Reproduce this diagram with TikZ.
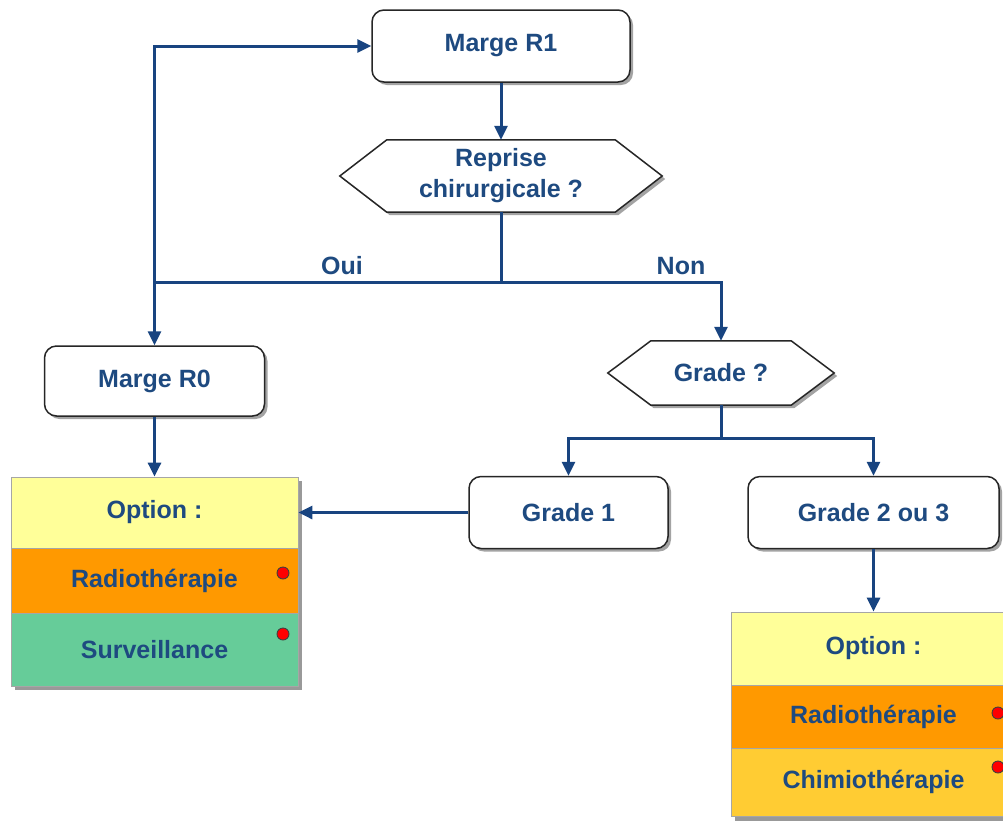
\documentclass[tikz,border=0pt]{standalone}
\usepackage{fontspec}
\setmainfont{Liberation Sans}
\usetikzlibrary{arrows.meta,shadows,calc}
\pgfdeclarelayer{bottom}
\pgfdeclarelayer{bg}
\pgfsetlayers{bottom,bg,main}
\definecolor{txt}{RGB}{30,74,128}
\definecolor{lncol}{RGB}{24,68,128}
\definecolor{optyellow}{RGB}{255,255,153}
\definecolor{optorange}{RGB}{255,153,0}
\definecolor{optgreen}{RGB}{102,204,153}
\definecolor{optgold}{RGB}{255,204,51}
\tikzset{
  box/.style={rectangle, rounded corners=12pt, draw=black!85, line width=1.5pt, fill=white,
    text=txt, align=center,
    drop shadow={shadow xshift=3pt, shadow yshift=-3pt, fill=black!45, opacity=0.8}},
  hexnode/.style={rectangle, inner sep=0pt, text=txt, align=center},
  hexshape/.style={draw=black!85, line width=1.5pt, fill=white,
    drop shadow={shadow xshift=3pt, shadow yshift=-3pt, fill=black!45, opacity=0.8}},
  optsec/.style={rectangle, inner sep=0pt, text=txt, draw=black!35, line width=0.8pt},
  dot/.style={circle, minimum size=12pt, inner sep=0pt, fill=red, draw=black!75, line width=0.9pt},
  arr/.style={draw=lncol, line width=3pt, -{Triangle[length=14pt,width=13pt]}},
  conn/.style={draw=lncol, line width=3pt},
  lbl/.style={text=txt, inner sep=1pt}
}
\begin{document}
\begin{tikzpicture}[x=1pt,y=-1pt, font=\fontsize{25}{31}\selectfont\bfseries]
\useasboundingbox (0,0) rectangle (1003,820);
\begin{pgfonlayer}{bottom}
\fill[white] (0,0) rectangle (1003,820);
\end{pgfonlayer}

% main boxes
\node[box, minimum width=258pt, minimum height=72pt] (m1) at (501,46) {Marge R1};
\node[box, minimum width=220pt, minimum height=70pt] (r0) at (154.5,381) {Marge R0};
\node[box, minimum width=199pt, minimum height=72pt] (g1) at (568.5,512.5) {Grade 1};
\node[box, minimum width=251pt, minimum height=72pt] (g2) at (873.5,512.5) {Grade 2 ou 3};

% hexagon decisions
\node[hexnode, minimum width=228pt, minimum height=72pt] (rep) at (501,176) {Reprise\\chirurgicale ?};
\node[hexnode, minimum width=140pt, minimum height=64pt] (gq) at (721,373) {Grade ?};
\begin{pgfonlayer}{bg}
\path[hexshape] (rep.north west) -- (rep.north east) -- ($(rep.east)+(47,0)$) -- (rep.south east)
  -- (rep.south west) -- ($(rep.west)+(-47,0)$) -- cycle;
\path[hexshape] (gq.north west) -- (gq.north east) -- ($(gq.east)+(43,0)$) -- (gq.south east)
  -- (gq.south west) -- ($(gq.west)+(-43,0)$) -- cycle;
\end{pgfonlayer}

% option box left
\fill[black!40] (15,481) rectangle (302,690);
\node[optsec, fill=optyellow, minimum width=287pt, minimum height=71pt] (opt1) at (154.5,512.5) {Option :};
\node[optsec, fill=optorange, minimum width=287pt, minimum height=65pt] (rad1) at (154.5,580.5) {Radiothérapie};
\node[optsec, fill=optgreen, minimum width=287pt, minimum height=73pt] (surv) at (154.5,649.5) {Surveillance};
\node[dot] (d1) at (283,573) {};
\node[dot] (d2) at (283,634) {};

% option box right
\fill[black!40] (735,616) rectangle (1020,824);
\node[optsec, fill=optyellow, minimum width=285pt, minimum height=73pt] (opt2) at (873.5,648.5) {Option :};
\node[optsec, fill=optorange, minimum width=285pt, minimum height=63pt] (rad2) at (873.5,716.5) {Radiothérapie};
\node[optsec, fill=optgold, minimum width=285pt, minimum height=68pt] (chim) at (873.5,782) {Chimiothérapie};
\node[dot] (d3) at (998,713) {};
\node[dot] (d4) at (998,767) {};

% junctions
\coordinate (j) at (501,282);
\coordinate (jl) at (154.5,282);
\coordinate (k) at (721,438);

% connectors
\draw[arr] (m1.south) -- (rep.north);
\draw[conn] (rep.south) -- (j);
\draw[arr] (j) -| (gq.north);
\draw[arr] (j) -| (r0.north);
\draw[arr] (jl) |- (m1.west);
\draw[arr] (r0.south) -- (opt1.north);
\draw[conn] (gq.south) -- (k);
\draw[arr] (k) -| (g1.north);
\draw[arr] (k) -| (g2.north);
\draw[arr] (g1.west) -- (opt1.east);
\draw[arr] (g2.south) -- (opt2.north);

% labels
\node[lbl] (oui) at (342,266) {Oui};
\node[lbl] (non) at (681,266) {Non};
\end{tikzpicture}
\end{document}
